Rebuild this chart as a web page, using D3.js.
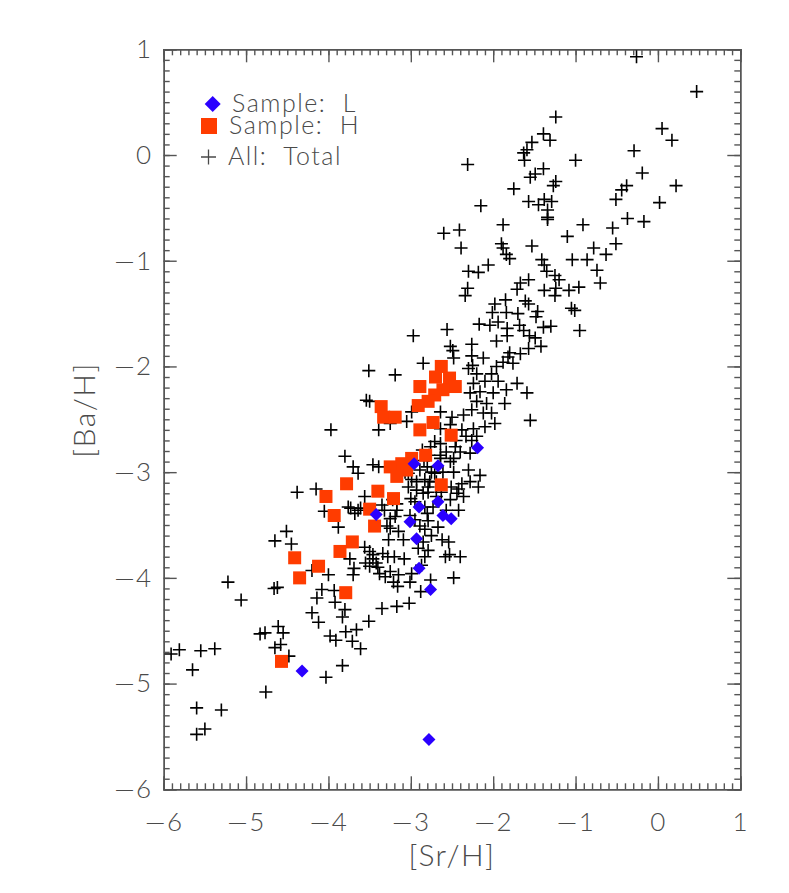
<!DOCTYPE html>
<meta charset="utf-8">
<script src="https://d3js.org/d3.v7.min.js"></script>
<style>
  body { margin: 0; background: #fff; }
  .lbl { font-family: Lato, "DejaVu Sans", sans-serif; font-weight: 300; fill: #4a4a4a; letter-spacing: 1.5px; }
</style>
<div id="my_dataviz"></div>
<script>
// [Sr/H], [Ba/H] pairs
var sampleL = [
  [-4.32,-4.88],[-2.78,-5.53],[-2.76,-4.11],[-2.90,-3.91],[-2.93,-3.63],[-3.42,-3.40],
  [-3.01,-3.47],[-2.90,-3.33],[-2.67,-3.28],[-2.61,-3.41],[-2.51,-3.44],[-2.96,-2.92],
  [-2.67,-2.94],[-2.19,-2.77]
];
var sampleH = [
  [-2.63,-2.00],[-2.70,-2.10],[-2.53,-2.11],[-2.89,-2.19],[-2.46,-2.19],[-2.61,-2.22],
  [-2.71,-2.27],[-2.79,-2.33],[-2.91,-2.37],[-3.36,-2.38],[-3.33,-2.48],[-3.19,-2.48],
  [-2.73,-2.53],[-2.89,-2.60],[-2.51,-2.65],[-2.82,-2.84],[-2.99,-2.87],[-3.11,-2.92],
  [-3.25,-2.95],[-3.05,-2.98],[-3.17,-3.04],[-3.78,-3.11],[-2.63,-3.12],[-3.40,-3.18],
  [-3.21,-3.25],[-3.50,-3.35],[-4.03,-3.23],[-3.93,-3.41],[-3.44,-3.51],[-3.71,-3.66],
  [-3.86,-3.75],[-4.41,-3.81],[-4.12,-3.89],[-4.35,-4.00],[-3.79,-4.14],[-4.57,-4.79]
];
var allTotal = [
  [-0.26,0.93],[0.47,0.60],[-1.24,0.36],[0.05,0.25],[-1.39,0.20],[-1.31,0.14],[0.17,0.14],
  [-1.53,0.12],[-1.59,0.05],[-1.63,0.02],[-0.29,0.04],[-1.62,-0.05],[-1.00,-0.05],[-2.31,-0.09],
  [-0.19,-0.17],[-1.39,-0.13],[-1.49,-0.18],[-1.55,-0.21],[-1.24,-0.25],[-1.27,-0.29],[-0.38,-0.29],
  [-0.44,-0.33],[0.22,-0.29],[-1.75,-0.32],[-0.51,-0.42],[0.02,-0.45],[-2.15,-0.48],[-1.57,-0.44],
  [-1.45,-0.47],[-1.38,-0.42],[-1.29,-0.44],[-1.34,-0.52],[-1.34,-0.59],[-1.34,-0.61],[-0.37,-0.60],
  [-0.17,-0.63],[-1.88,-0.66],[-0.91,-0.66],[-0.55,-0.69],[-2.60,-0.74],[-2.41,-0.71],[-1.10,-0.77],
  [-0.51,-0.84],[-2.39,-0.88],[-1.90,-0.84],[-1.88,-0.88],[-1.53,-0.86],[-0.78,-0.88],[-0.63,-0.94],
  [-1.84,-0.94],[-1.80,-0.98],[-1.41,-0.99],[-1.04,-0.99],[-0.86,-0.99],[-1.38,-1.04],[-2.06,-1.04],
  [-2.30,-1.10],[-2.18,-1.11],[-0.74,-1.09],[-1.35,-1.10],[-1.25,-1.14],[-1.20,-1.18],[-1.57,-1.18],
  [-1.67,-1.21],[-0.70,-1.21],[-2.31,-1.26],[-2.34,-1.33],[-1.71,-1.27],[-1.38,-1.28],[-1.24,-1.26],
  [-1.08,-1.28],[-0.96,-1.25],[-1.25,-1.33],[-1.85,-1.37],[-1.61,-1.38],[-1.98,-1.41],[-1.57,-1.41],
  [-2.01,-1.49],[-1.84,-1.49],[-1.70,-1.50],[-1.46,-1.48],[-1.05,-1.45],[-1.01,-1.47],[-1.48,-1.53],
  [-2.17,-1.60],[-2.04,-1.61],[-1.94,-1.58],[-1.83,-1.64],[-1.68,-1.61],[-1.63,-1.66],[-1.39,-1.63],
  [-1.30,-1.62],[-0.95,-1.66],[-2.56,-1.65],[-1.83,-1.71],[-1.96,-1.76],[-2.52,-1.81],[-2.49,-1.85],
  [-2.26,-1.79],[-2.26,-1.90],[-2.12,-1.92],[-1.56,-1.71],[-1.49,-1.73],[-1.42,-1.81],[-1.57,-1.83],
  [-1.80,-1.87],[-1.67,-1.88],[-1.82,-1.91],[-1.88,-1.96],[-1.76,-1.97],[-1.96,-2.00],[-2.25,-1.99],
  [-2.30,-2.02],[-2.85,-1.97],[-3.19,-2.08],[-2.48,-1.92],[-2.02,-2.07],[-2.20,-2.07],[-2.24,-2.16],
  [-2.10,-2.14],[-1.94,-2.14],[-1.71,-2.16],[-1.59,-2.25],[-1.84,-2.22],[-2.00,-2.25],[-2.16,-2.24],
  [-2.28,-2.25],[-2.20,-2.33],[-2.08,-2.35],[-1.86,-2.35],[-2.26,-2.41],[-2.12,-2.44],[-2.02,-2.44],
  [-2.36,-2.46],[-2.50,-2.48],[-2.64,-2.43],[-2.99,-2.43],[-3.05,-2.52],[-3.50,-2.33],[-3.39,-2.60],
  [-3.25,-2.54],[-1.55,-2.51],[-1.98,-2.54],[-2.10,-2.57],[-2.24,-2.59],[-2.38,-2.60],[-2.52,-2.55],
  [-2.64,-2.59],[-2.20,-2.66],[-2.33,-2.66],[-2.45,-2.70],[-2.64,-2.73],[-2.76,-2.76],[-2.86,-2.79],
  [-2.57,-2.81],[-2.40,-2.81],[-2.26,-2.70],[-2.28,-2.82],[-2.48,-2.87],[-2.64,-2.84],[-3.80,-2.85],
  [-3.70,-2.95],[-3.64,-3.01],[-3.46,-2.93],[-3.39,-2.95],[-2.89,-2.98],[-2.71,-3.01],[-2.48,-3.00],
  [-2.30,-2.98],[-2.16,-3.03],[-2.83,-3.07],[-2.99,-3.07],[-2.38,-3.11],[-2.28,-3.09],[-2.18,-3.14],
  [-2.93,-3.17],[-2.79,-3.19],[-2.44,-3.20],[-2.36,-3.23],[-3.22,-3.26],[-2.95,-3.28],[-3.76,-3.33],
  [-3.56,-3.23],[-3.68,-3.39],[-3.32,-3.36],[-3.19,-3.42],[-3.01,-3.41],[-2.80,-3.39],[-2.42,-3.36],
  [-3.35,-4.29],[-3.17,-4.27],[-3.02,-4.24],[-2.88,-4.13],[-2.48,-4.00],[-2.76,-4.02],[-2.53,-3.78],
  [-2.40,-3.80],[-2.58,-3.80],[-2.54,-3.66],[-3.46,-3.78],[-3.34,-3.77],[-3.28,-3.80],[-3.20,-3.80],
  [-3.08,-3.82],[-3.42,-3.86],[-3.38,-3.96],[-3.25,-3.94],[-3.15,-3.97],[-2.99,-3.96],[-2.87,-3.88],
  [-2.83,-3.80],[-2.79,-3.74],[-2.85,-3.66],[-2.91,-3.72],[-2.67,-3.52],[-2.62,-3.64],[-2.75,-3.60],
  [-2.83,-3.54],[-3.15,-3.56],[-3.25,-3.53],[-3.27,-3.64],[-3.09,-3.64],[-3.31,-3.99],[-3.21,-4.04],
  [-3.16,-4.08],[-3.01,-4.04],[-3.50,-3.89],[-2.95,-3.45],[-3.17,-3.36],[-3.25,-3.44],[-3.29,-3.51],
  [-2.89,-3.51],[-2.79,-3.46],[-2.57,-3.36],[-2.73,-3.33],[-2.83,-3.33],[-2.52,-3.26],[-2.42,-3.16],
  [-2.51,-3.14],[-2.63,-3.19],[-2.69,-3.23],[-2.85,-3.20],[-3.00,-3.25],[-3.17,-3.30],[-3.35,-3.31],
  [-2.93,-3.09],[-2.77,-3.09],[-2.69,-3.09],[-2.79,-3.14],[-3.03,-3.14],[-2.75,-3.00],[-2.61,-3.00],
  [-2.52,-2.90],[-2.46,-2.76],[-2.71,-2.71],[-2.64,-2.87],[-2.80,-2.95],[-2.84,-2.89],[-2.78,-2.84],
  [-3.03,-3.01],[-3.07,-3.00],
  [-5.91,-4.72],[-5.81,-4.68],[-5.55,-4.69],[-5.38,-4.67],[-5.65,-4.87],[-5.60,-5.23],[-5.30,-5.25],
  [-5.60,-5.48],[-5.50,-5.43],[-4.76,-5.08],[-4.83,-4.53],[-4.77,-4.52],[-4.61,-4.46],[-4.55,-4.52],
  [-4.65,-4.66],[-4.58,-4.63],[-4.48,-4.74],[-4.12,-4.42],[-3.98,-4.55],[-3.91,-4.59],[-3.79,-4.51],
  [-3.66,-4.49],[-3.71,-4.60],[-3.61,-4.67],[-3.51,-4.41],[-3.83,-4.83],[-4.03,-4.94],[-5.22,-4.04],
  [-5.06,-4.21],[-4.65,-3.65],[-4.51,-3.56],[-4.45,-3.68],[-4.66,-4.10],[-4.62,-4.09],[-4.05,-3.37],
  [-3.88,-3.52],[-4.20,-3.93],[-4.00,-3.97],[-4.08,-4.11],[-4.14,-4.19],[-3.93,-4.12],[-3.92,-4.23],
  [-4.20,-4.33],[-3.80,-4.30],[-3.83,-4.37],[-3.73,-3.34],[-3.64,-3.36],[-3.61,-3.34],[-3.74,-3.82],
  [-3.69,-3.91],[-3.70,-3.97],[-3.56,-3.71],[-3.50,-3.75],[-3.46,-3.82],[-3.40,-3.90],[-3.55,-3.86],
  [-4.38,-3.19],[-4.15,-3.16],[-3.97,-2.60],[-3.54,-2.32],[-3.51,-2.04],[-2.97,-1.71]
];
var xTicks = [-6, -5, -4, -3, -2, -1, 0, 1];
var yTicks = [-6, -5, -4, -3, -2, -1, 0, 1];

var margin = {top: 49.3, left: 163.7},
    width = 576.6,
    height = 740;

var svg = d3.select("#my_dataviz")
  .append("svg")
  .attr("width", 789)
  .attr("height", 893);

var g = svg.append("g")
  .attr("transform", "translate(" + margin.left + "," + margin.top + ")");

var x = d3.scaleLinear().domain([-6, 1]).range([0, width]);
var y = d3.scaleLinear().domain([-6, 1]).range([height, 0]);

var minorX = d3.range(-60, 11).map(function(i) { return i / 10; });
var minorY = d3.range(-60, 11).map(function(i) { return i / 10; });
var fmt = function(d) { return d < 0 ? "\u2014" + Math.abs(d) : String(d); };

// axes: major + minor ticks on all four sides, pointing inward
function styleAxis(sel) {
  sel.select(".domain").attr("stroke", "#555").attr("stroke-width", 1.4);
  sel.selectAll(".tick line").attr("stroke", "#555").attr("stroke-width", 1.4);
  sel.selectAll(".tick text").attr("class", "lbl").style("font-size", "26px").attr("fill", "#4a4a4a");
}
g.append("g").attr("transform", "translate(0," + height + ")")
  .call(d3.axisBottom(x).tickValues(minorX).tickSize(-6).tickFormat("")).call(styleAxis);
g.append("g").attr("transform", "translate(0," + height + ")")
  .call(d3.axisBottom(x).tickValues(xTicks).tickSize(-13).tickPadding(23).tickFormat(fmt)).call(styleAxis);
g.append("g")
  .call(d3.axisTop(x).tickValues(minorX).tickSize(-6).tickFormat("")).call(styleAxis);
g.append("g")
  .call(d3.axisTop(x).tickValues(xTicks).tickSize(-13).tickFormat("")).call(styleAxis);
g.append("g")
  .call(d3.axisLeft(y).tickValues(minorY).tickSize(-6).tickFormat("")).call(styleAxis);
g.append("g")
  .call(d3.axisLeft(y).tickValues(yTicks).tickSize(-13).tickPadding(11).tickFormat(fmt)).call(styleAxis);
g.append("g").attr("transform", "translate(" + width + ",0)")
  .call(d3.axisRight(y).tickValues(minorY).tickSize(-6).tickFormat("")).call(styleAxis);
g.append("g").attr("transform", "translate(" + width + ",0)")
  .call(d3.axisRight(y).tickValues(yTicks).tickSize(-13).tickFormat("")).call(styleAxis);

// axis titles
svg.append("text").attr("class", "lbl")
  .attr("x", margin.left + width / 2).attr("y", 866)
  .attr("text-anchor", "middle").style("font-size", "30px")
  .text("[Sr/H]");
svg.append("text").attr("class", "lbl")
  .attr("transform", "translate(95," + 410 + ") rotate(-90)")
  .attr("text-anchor", "middle").style("font-size", "30px")
  .text("[Ba/H]");

var plusPath = function(s) { return "M" + (-s) + ",0H" + s + "M0," + (-s) + "V" + s; };
var diamondPath = function(s) { return "M0," + (-s) + "L" + s + ",0L0," + s + "L" + (-s) + ",0Z"; };

// all stars
g.append("g").selectAll("path")
  .data(allTotal).enter().append("path")
  .attr("transform", function(d) { return "translate(" + x(d[0]) + "," + y(d[1]) + ")"; })
  .attr("d", plusPath(6.5))
  .attr("stroke", "#000").attr("stroke-width", 1.6).attr("fill", "none");

// sample H
g.append("g").selectAll("rect")
  .data(sampleH).enter().append("rect")
  .attr("x", function(d) { return x(d[0]) - 6.5; })
  .attr("y", function(d) { return y(d[1]) - 6.5; })
  .attr("width", 13).attr("height", 13)
  .attr("fill", "#ff3c00");

// sample L
g.append("g").selectAll("path")
  .data(sampleL).enter().append("path")
  .attr("transform", function(d) { return "translate(" + x(d[0]) + "," + y(d[1]) + ")"; })
  .attr("d", diamondPath(6.5))
  .attr("fill", "#2a00ff");

// legend
var legend = svg.append("g");
legend.append("path").attr("transform", "translate(212.7,104)").attr("d", diamondPath(8)).attr("fill", "#2a00ff");
legend.append("text").attr("class", "lbl").attr("x", 232).attr("y", 112).style("font-size", "25px").text("Sample:\u00a0 L");
legend.append("rect").attr("x", 201).attr("y", 118).attr("width", 16).attr("height", 16).attr("fill", "#ff3c00");
legend.append("text").attr("class", "lbl").attr("x", 229).attr("y", 134).style("font-size", "25px").text("Sample:\u00a0 H");
legend.append("path").attr("transform", "translate(208.5,157)").attr("d", plusPath(7.5))
  .attr("stroke", "#4a4a4a").attr("stroke-width", 1.3).attr("fill", "none");
legend.append("text").attr("class", "lbl").attr("x", 228).attr("y", 165).style("font-size", "25px").text("All:\u00a0 Total");
</script>
